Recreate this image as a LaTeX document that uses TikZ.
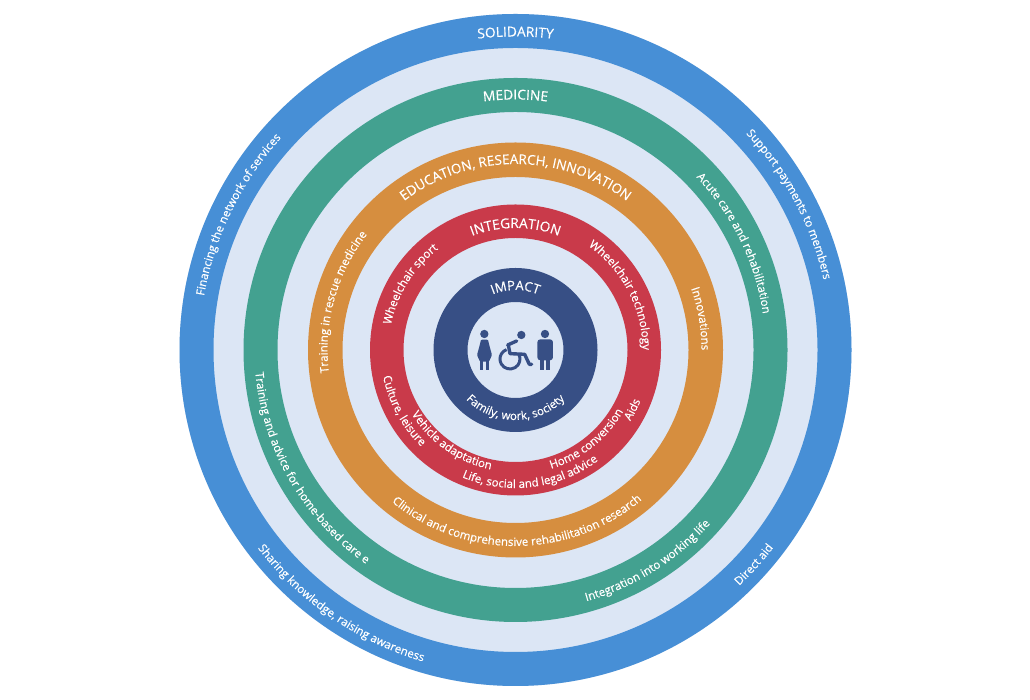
\documentclass[tikz,border=0pt]{standalone}
\usepackage{fontspec}
\setmainfont{Open Sans}[FakeBold=0.35]
\usetikzlibrary{decorations.text}
\definecolor{bgpale}{HTML}{DCE6F5}
\definecolor{ringblue}{HTML}{478FD6}
\definecolor{ringgreen}{HTML}{43A190}
\definecolor{ringorange}{HTML}{D68E3F}
\definecolor{ringred}{HTML}{C93A4A}
\definecolor{ringnavy}{HTML}{374F85}
\newcommand{\lab}{\fontsize{11.5}{13}\selectfont}
\newcommand{\labcap}{\fontsize{13.7}{15}\selectfont}
\newcommand{\labimp}{\fontsize{13}{15}\selectfont}
\newcommand{\labbig}{\fontsize{13.5}{15}\selectfont}
\newcommand{\toparc}[4][\lab]{\path[decorate,decoration={text along path,text color=white,text align=center,text={|#1|#4}}]
  (515.5,350) ++({#3+85}:#2) arc[start angle={#3+85},end angle={#3-85},radius=#2];}
\newcommand{\botarc}[4][\lab]{\path[decorate,decoration={text along path,text color=white,text align=center,text={|#1|#4}}]
  (515.5,350) ++({#3-85}:#2) arc[start angle={#3-85},end angle={#3+85},radius=#2];}
\newcommand{\ring}[3]{\fill[#1,even odd rule] (515.5,350) circle[radius=#2] (515.5,350) circle[radius=#3];}
\begin{document}
\begin{tikzpicture}[x=1pt,y=1pt]
\useasboundingbox (0,0) rectangle (1030,700);
\fill[white] (0,0) rectangle (1030,700);
\fill[bgpale] (515.5,350) circle[radius=336];
\ring{ringblue}{336}{302}
\ring{ringgreen}{272}{238}
\ring{ringorange}{207.5}{173}
\ring{ringred}{145.5}{112}
\ring{ringnavy}{82}{48}
% labels
\toparc[\labcap]{313.5}{90}{SOLIDARITY}
\toparc{316}{28}{Support payments to members}
\toparc{316}{154}{Financing the network of services}
\botarc{325}{235.5}{Sharing knowledge, raising awareness}
\botarc{325}{-42}{Direct aid}
\toparc[\labcap]{250.5}{90}{MEDICINE}
\toparc{250}{26}{Acute care and rehabilitation}
\botarc{261}{210}{Training and advice for home-based care e}
\botarc{261}{-58}{Integration into working life}
\toparc[\labbig]{186}{90}{EDUCATION, RESEARCH, INNOVATION}
\toparc{188}{164.5}{Training in rescue medicine}
\toparc{186}{9.6}{Innovations}
\botarc{196}{270.5}{Clinical and comprehensive rehabilitation research}
\toparc[\labcap]{122}{90}{INTEGRATION}
\toparc{127}{148}{Wheelchair sport}
\toparc{127}{27.5}{Wheelchair technology}
\botarc{135}{208.5}{Culture, leisure}
\botarc{135}{-27}{Aids}
\botarc{122}{235}{Vehicle adaptation}
\botarc{124}{-51.5}{Home conversion}
\botarc{138}{277}{Life, social and legal advice}
\toparc[\labimp]{60}{90}{IMPACT}
\botarc{70}{270}{Family, work, society}
% people icons
\begin{scope}[shift={(420,435)},x=0.3333pt,y=-0.3333pt,ringnavy]
% woman
\fill (193,207) circle[radius=12.5];
\fill[rounded corners=1pt] (183,224) -- (204,224) -- (209,245) -- (216,270) -- (207,290) -- (180,290) -- (171,270) -- (178,245) -- cycle;
\fill (181,288) rectangle (190,316);
\fill (198,288) rectangle (207,316);
% man
\fill (375,207) circle[radius=12.5];
\fill[rounded corners=3pt] (352,286) -- (352,223) -- (399,223) -- (399,286) -- cycle;
\fill (361,280) rectangle (372,316);
\fill (379,280) rectangle (390,316);
% wheelchair user
\fill (304,210) circle[radius=12.5];
\draw[line width=3pt] (270,282) ++(-30:30) arc[start angle=-30,end angle=250,radius=30];
\draw[line width=3.4pt,line cap=round,line join=round] (263,240) -- (290,228);
\draw[line width=3.4pt,line cap=round,line join=round] (265,240) -- (270,266) -- (314,268) -- (328,298) -- (335,298);
\end{scope}
\end{tikzpicture}
\end{document}
